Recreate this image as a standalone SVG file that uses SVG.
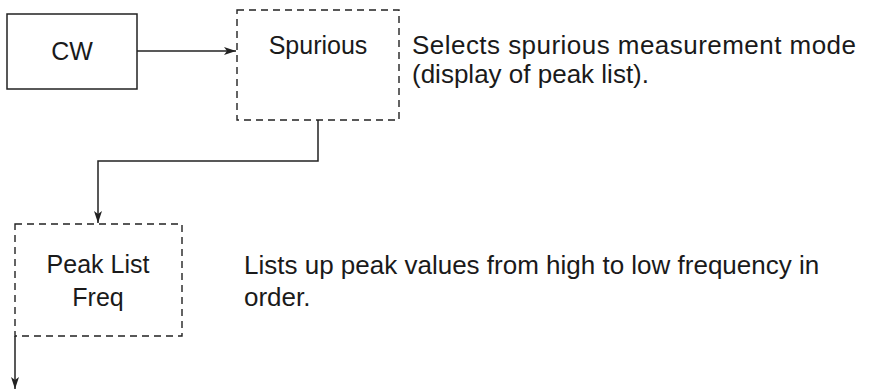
<svg xmlns="http://www.w3.org/2000/svg" width="873" height="391" viewBox="0 0 873 391">
<style>
.box{fill:none;stroke:#222;stroke-width:1.5}
.dash{fill:none;stroke:#222;stroke-width:1.4;stroke-dasharray:7 5}
.conn{fill:none;stroke:#222;stroke-width:1.5}
text{font-family:"Liberation Sans",Arial,sans-serif;font-size:25px;fill:#1a1a1a}
.d{font-size:26px}
.c{text-anchor:middle}
</style>
<defs>
<marker id="arr" viewBox="0 0 12 8" refX="12" refY="4" markerWidth="13" markerHeight="8" markerUnits="userSpaceOnUse" orient="auto">
<path d="M0,0 L12,4 L0,8 L3,4 Z" fill="#222"/>
</marker>
</defs>
<rect width="873" height="391" fill="#fff"/>
<g id="connectors">
<line class="conn" x1="137" y1="51" x2="236" y2="51" marker-end="url(#arr)"/>
<polyline class="conn" points="318,120 318,161 98,161 98,223" marker-end="url(#arr)"/>
<line class="conn" x1="15" y1="336" x2="15" y2="389" marker-end="url(#arr)"/>
</g>
<g id="cw">
<rect class="box" x="7" y="14" width="130" height="75"/>
<text class="c" x="72" y="60">CW</text>
</g>
<g id="spurious">
<rect class="dash" x="237" y="10" width="162" height="110"/>
<text class="c" x="318" y="54">Spurious</text>
</g>
<g id="spurious-desc">
<text class="d" x="412" y="54" textLength="444" lengthAdjust="spacing">Selects spurious measurement mode</text>
<text class="d" x="412" y="83">(display of peak list).</text>
</g>
<g id="peaklist">
<rect class="dash" x="15" y="224" width="167" height="112"/>
<text class="c" x="98" y="273">Peak List</text>
<text class="c" x="98" y="306">Freq</text>
</g>
<g id="peaklist-desc">
<text class="d" x="244" y="274">Lists up peak values from high to low frequency in</text>
<text class="d" x="244" y="306">order.</text>
</g>
</svg>
